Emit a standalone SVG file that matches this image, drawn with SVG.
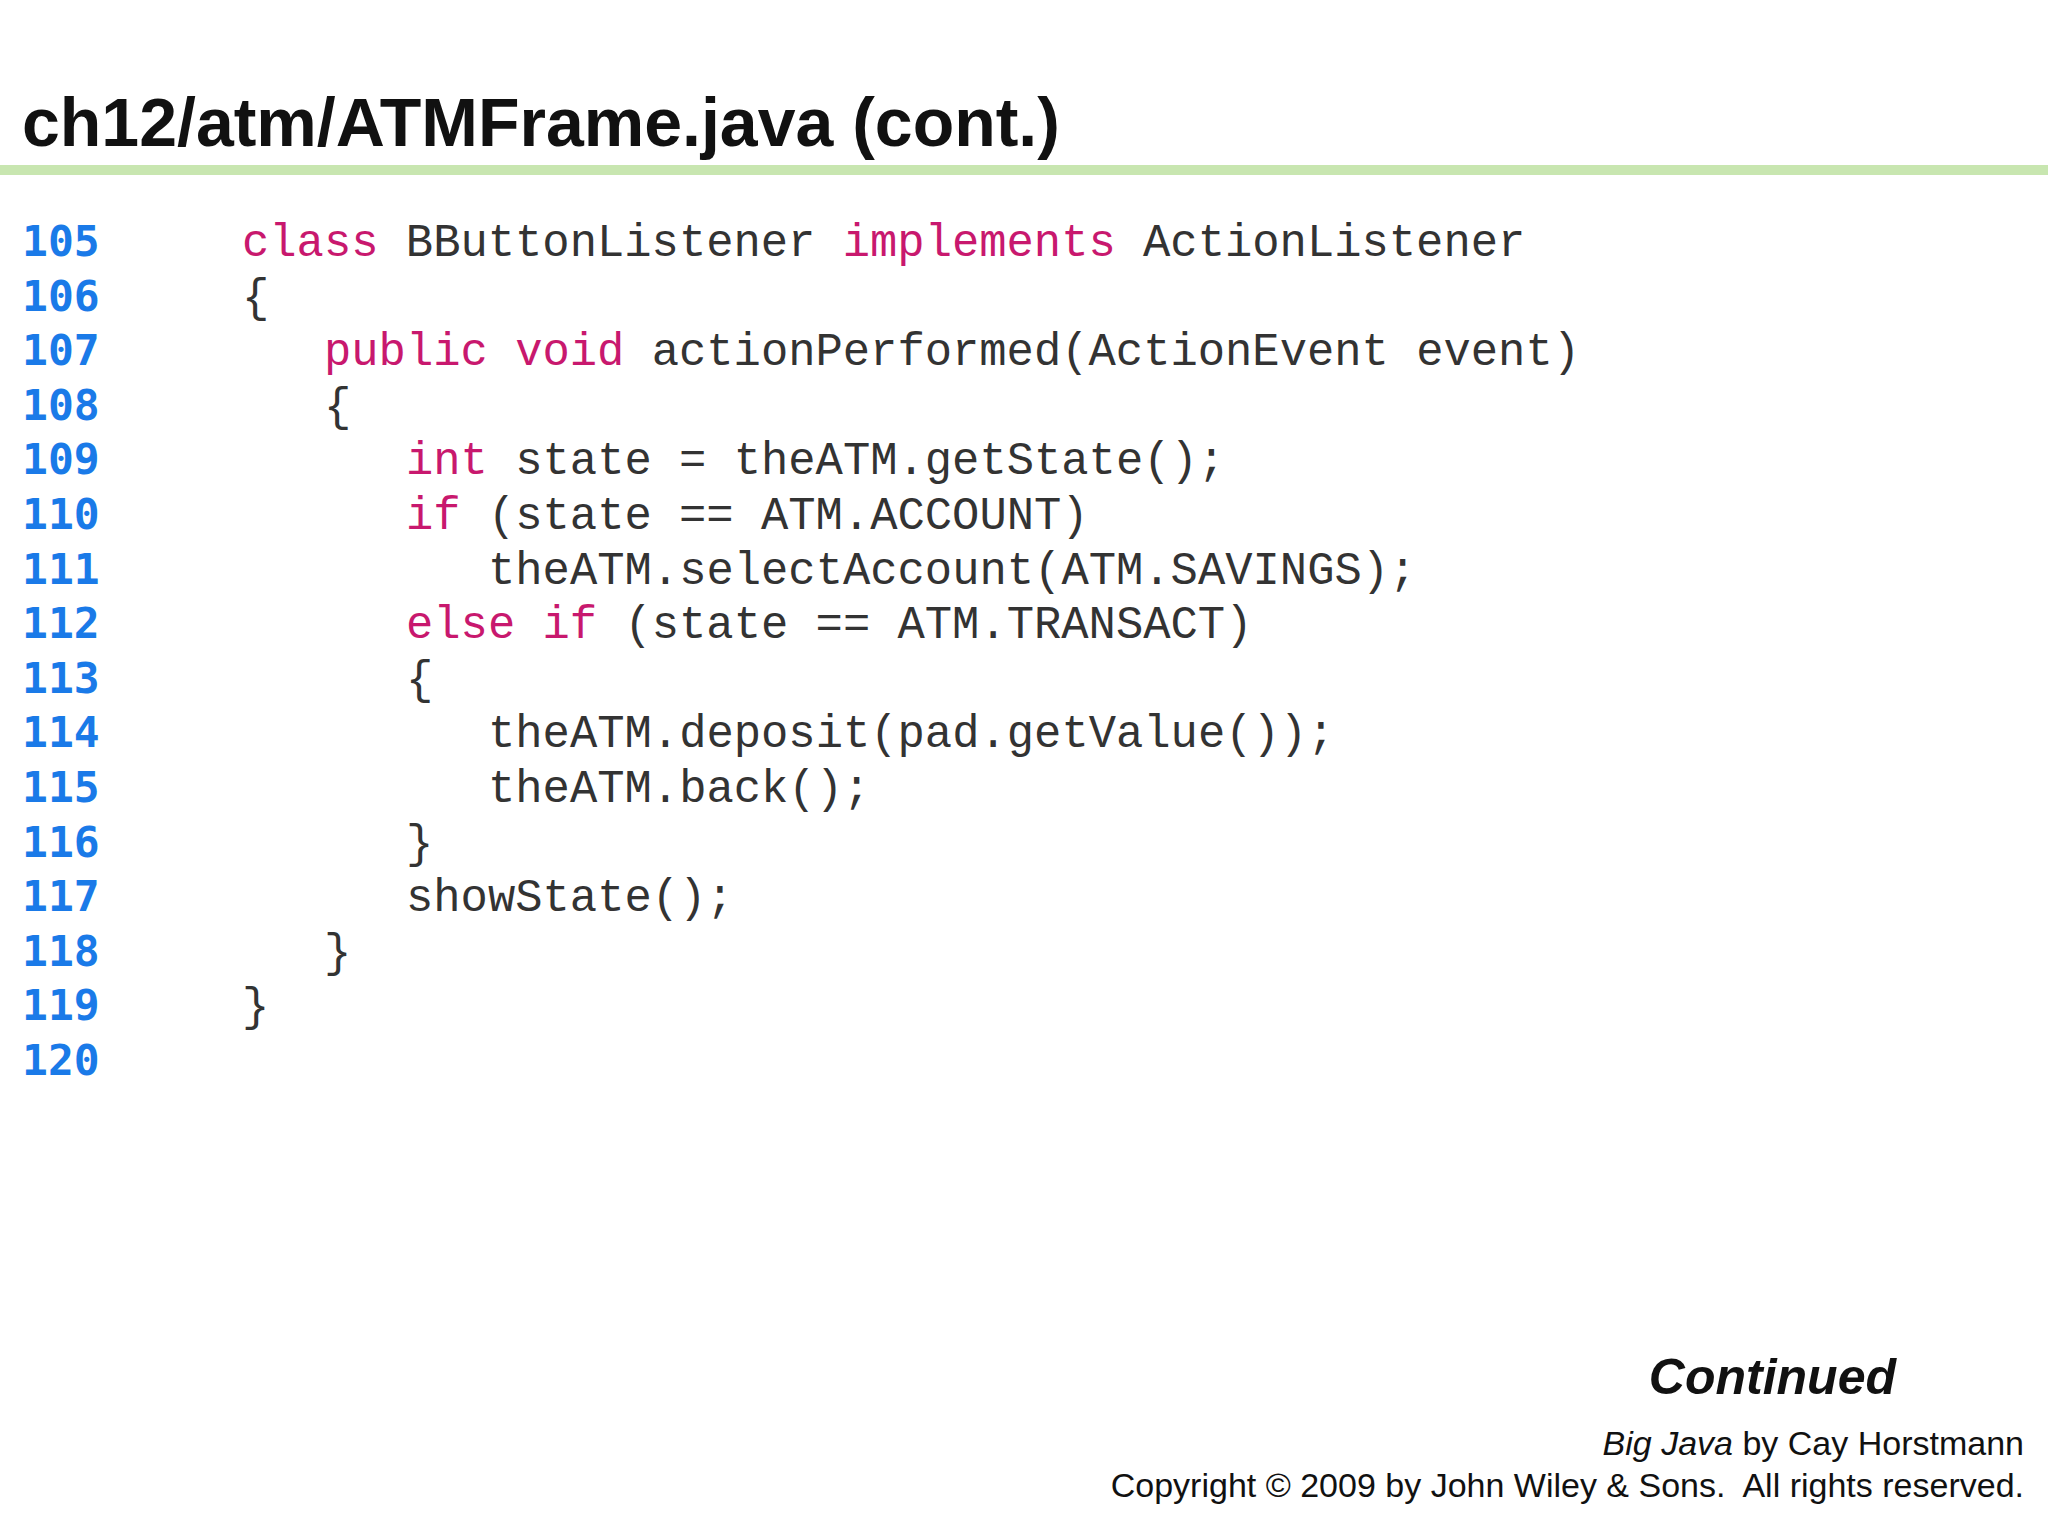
<svg xmlns="http://www.w3.org/2000/svg" width="2048" height="1536" viewBox="0 0 2048 1536">
<style>
.t{font-family:"Liberation Sans",Arial,sans-serif;font-weight:bold;font-size:68px;fill:#111}
.n{font-family:"DejaVu Sans Mono",monospace;font-weight:bold;font-size:43px;fill:#1a7ae8}
.c{font-family:"Liberation Mono","Courier New",monospace;font-size:45.5px;fill:#333}
.k{fill:#c8186e}
.f{font-family:"Liberation Sans",Arial,sans-serif;fill:#111}
</style>
<rect width="2048" height="1536" fill="#fff"/>
<text class="t" x="22" y="146">ch12/atm/ATMFrame.java (cont.)</text>
<rect x="0" y="165" width="2048" height="10" fill="#c8e6b0"/>
<g class="n">
<text x="22" y="256">105</text><text x="22" y="311">106</text><text x="22" y="365">107</text><text x="22" y="420">108</text><text x="22" y="474">109</text><text x="22" y="529">110</text><text x="22" y="584">111</text><text x="22" y="638">112</text><text x="22" y="693">113</text><text x="22" y="747">114</text><text x="22" y="802">115</text><text x="22" y="857">116</text><text x="22" y="911">117</text><text x="22" y="966">118</text><text x="22" y="1020">119</text><text x="22" y="1075">120</text>
</g>
<g class="c" xml:space="preserve">
<text x="242" y="256"><tspan class="k">class</tspan> BButtonListener <tspan class="k">implements</tspan> ActionListener</text>
<text x="242" y="311">{</text>
<text x="324" y="365"><tspan class="k">public</tspan> <tspan class="k">void</tspan> actionPerformed(ActionEvent event)</text>
<text x="324" y="420">{</text>
<text x="406" y="474"><tspan class="k">int</tspan> state = theATM.getState();</text>
<text x="406" y="529"><tspan class="k">if</tspan> (state == ATM.ACCOUNT)</text>
<text x="488" y="584">theATM.selectAccount(ATM.SAVINGS);</text>
<text x="406" y="638"><tspan class="k">else</tspan> <tspan class="k">if</tspan> (state == ATM.TRANSACT)</text>
<text x="406" y="693">{</text>
<text x="488" y="747">theATM.deposit(pad.getValue());</text>
<text x="488" y="802">theATM.back();</text>
<text x="406" y="857">}</text>
<text x="406" y="911">showState();</text>
<text x="324" y="966">}</text>
<text x="242" y="1020">}</text>
</g>
<text class="f" x="1896" y="1394" text-anchor="end" font-size="50" font-weight="bold" font-style="italic">Continued</text>
<text class="f" x="2024" y="1455" text-anchor="end" font-size="34"><tspan font-style="italic">Big Java</tspan> by Cay Horstmann</text>
<text class="f" x="2024" y="1497" text-anchor="end" font-size="34">Copyright © 2009 by John Wiley &amp; Sons.&#160; All rights reserved.</text>
</svg>
